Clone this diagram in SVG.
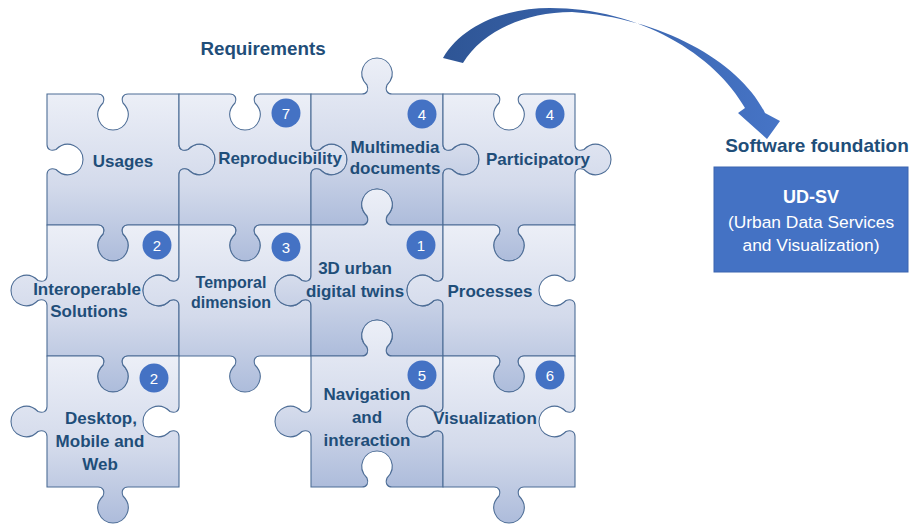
<svg xmlns="http://www.w3.org/2000/svg" width="913" height="527" viewBox="0 0 913 527">
<defs>
<linearGradient id="pg" x1="0" y1="0" x2="0" y2="1">
<stop offset="0" stop-color="#eceff7"/>
<stop offset="0.55" stop-color="#d3daeb"/>
<stop offset="1" stop-color="#adbcdb"/>
</linearGradient>
<linearGradient id="ag" x1="0" y1="0" x2="1" y2="0">
<stop offset="0" stop-color="#2e5595"/>
<stop offset="1" stop-color="#4674c6"/>
</linearGradient>
<style>
.pc{fill:url(#pg);stroke:#4d6d96;stroke-width:1.1}
.lb{font-family:"Liberation Sans",Arial,sans-serif;font-weight:bold;font-size:17px;fill:#1f4e79;text-anchor:middle}
.bd{fill:#4472c4}
.bn{font-family:"Liberation Sans",Arial,sans-serif;font-size:15px;fill:#ffffff;text-anchor:middle}
.ttl{font-family:"Liberation Sans",Arial,sans-serif;font-weight:bold;font-size:18.8px;fill:#1f4e79;text-anchor:middle}
.wt{font-family:"Liberation Sans",Arial,sans-serif;font-size:17.4px;fill:#ffffff;text-anchor:middle}
</style>
</defs>
<rect width="913" height="527" fill="#ffffff"/>
<text class="ttl" x="263" y="55">Requirements</text>

<g id="usages">
<path class="pc" d="M47,94 h51 c5,0 7,4 5,9 c-11,11 -3,27 10,27 c13,0 21,-16 10,-27 c-2,-5 0,-9 5,-9 h51 v50.5 c0,5 4,7 9,5 c11,-11 27,-3 27,10 c0,13 -16,21 -27,10 c-5,-2 -9,0 -9,5 v50.5 h-51 c-5,0 -7,4 -5,9 c11,11 3,27 -10,27 c-13,0 -21,-16 -10,-27 c2,-5 0,-9 -5,-9 h-51 v-50.5 c0,-5 4,-7 9,-5 c11,11 27,3 27,-10 c0,-13 -16,-21 -27,-10 c-5,2 -9,0 -9,-5 z"/>
<text class="lb" x="123" y="167">Usages</text>
</g>
<g id="reproducibility">
<path class="pc" d="M179,94 h51 c5,0 7,4 5,9 c-11,11 -3,27 10,27 c13,0 21,-16 10,-27 c-2,-5 0,-9 5,-9 h51 v50.5 c0,5 4,7 9,5 c11,-11 27,-3 27,10 c0,13 -16,21 -27,10 c-5,-2 -9,0 -9,5 v50.5 h-51 c-5,0 -7,4 -5,9 c11,11 3,27 -10,27 c-13,0 -21,-16 -10,-27 c2,-5 0,-9 -5,-9 h-51 v-50.5 c0,-5 4,-7 9,-5 c11,11 27,3 27,-10 c0,-13 -16,-21 -27,-10 c-5,2 -9,0 -9,-5 z"/>
<circle class="bd" cx="286" cy="113" r="14.5"/>
<text class="bn" x="286" y="118.5">7</text>
<text class="lb" x="280" y="164">Reproducibility</text>
</g>
<g id="multimedia">
<path class="pc" d="M311,94 h51 c5,0 7,-4 5,-9 c-11,-11 -3,-27 10,-27 c13,0 21,16 10,27 c-2,5 0,9 5,9 h51 v50.5 c0,5 4,7 9,5 c11,-11 27,-3 27,10 c0,13 -16,21 -27,10 c-5,-2 -9,0 -9,5 v50.5 h-51 c-5,0 -7,-4 -5,-9 c11,-11 3,-27 -10,-27 c-13,0 -21,16 -10,27 c2,5 0,9 -5,9 h-51 v-50.5 c0,-5 4,-7 9,-5 c11,11 27,3 27,-10 c0,-13 -16,-21 -27,-10 c-5,2 -9,0 -9,-5 z"/>
<circle class="bd" cx="422" cy="114" r="14.5"/>
<text class="bn" x="422" y="119.5">4</text>
<text class="lb" x="395" y="153">Multimedia</text>
<text class="lb" x="395" y="174">documents</text>
</g>
<g id="participatory">
<path class="pc" d="M443,94 h51 c5,0 7,4 5,9 c-11,11 -3,27 10,27 c13,0 21,-16 10,-27 c-2,-5 0,-9 5,-9 h51 v50.5 c0,5 4,7 9,5 c11,-11 27,-3 27,10 c0,13 -16,21 -27,10 c-5,-2 -9,0 -9,5 v50.5 h-51 c-5,0 -7,4 -5,9 c11,11 3,27 -10,27 c-13,0 -21,-16 -10,-27 c2,-5 0,-9 -5,-9 h-51 v-50.5 c0,-5 4,-7 9,-5 c11,11 27,3 27,-10 c0,-13 -16,-21 -27,-10 c-5,2 -9,0 -9,-5 z"/>
<circle class="bd" cx="550" cy="114" r="14.5"/>
<text class="bn" x="550" y="119.5">4</text>
<text class="lb" x="538" y="165">Participatory</text>
</g>

<g id="interoperable">
<path class="pc" d="M47,225 h51 c5,0 7,4 5,9 c-11,11 -3,27 10,27 c13,0 21,-16 10,-27 c-2,-5 0,-9 5,-9 h51 v50.5 c0,5 -4,7 -9,5 c-11,-11 -27,-3 -27,10 c0,13 16,21 27,10 c5,-2 9,0 9,5 v50.5 h-51 c-5,0 -7,4 -5,9 c11,11 3,27 -10,27 c-13,0 -21,-16 -10,-27 c2,-5 0,-9 -5,-9 h-51 v-50.5 c0,-5 -4,-7 -9,-5 c-11,11 -27,3 -27,-10 c0,-13 16,-21 27,-10 c5,2 9,0 9,-5 z"/>
<circle class="bd" cx="157" cy="245" r="14.5"/>
<text class="bn" x="157" y="250.5">2</text>
<text class="lb" x="87" y="295">Interoperable</text>
<text class="lb" x="89" y="317">Solutions</text>
</g>
<g id="temporal">
<path class="pc" d="M179,225 h51 c5,0 7,4 5,9 c-11,11 -3,27 10,27 c13,0 21,-16 10,-27 c-2,-5 0,-9 5,-9 h51 v50.5 c0,5 -4,7 -9,5 c-11,-11 -27,-3 -27,10 c0,13 16,21 27,10 c5,-2 9,0 9,5 v50.5 h-51 c-5,0 -7,4 -5,9 c11,11 3,27 -10,27 c-13,0 -21,-16 -10,-27 c2,-5 0,-9 -5,-9 h-51 v-50.5 c0,-5 -4,-7 -9,-5 c-11,11 -27,3 -27,-10 c0,-13 16,-21 27,-10 c5,2 9,0 9,-5 z"/>
<circle class="bd" cx="286" cy="247" r="14.5"/>
<text class="bn" x="286" y="252.5">3</text>
<text class="lb" x="231" y="288" style="font-size:16px">Temporal</text>
<text class="lb" x="231" y="308" style="font-size:16px">dimension</text>
</g>
<g id="digital-twins">
<path class="pc" d="M311,225 h51 c5,0 7,-4 5,-9 c-11,-11 -3,-27 10,-27 c13,0 21,16 10,27 c-2,5 0,9 5,9 h51 v50.5 c0,5 -4,7 -9,5 c-11,-11 -27,-3 -27,10 c0,13 16,21 27,10 c5,-2 9,0 9,5 v50.5 h-51 c-5,0 -7,-4 -5,-9 c11,-11 3,-27 -10,-27 c-13,0 -21,16 -10,27 c2,5 0,9 -5,9 h-51 v-50.5 c0,-5 -4,-7 -9,-5 c-11,11 -27,3 -27,-10 c0,-13 16,-21 27,-10 c5,2 9,0 9,-5 z"/>
<circle class="bd" cx="421" cy="245" r="14.5"/>
<text class="bn" x="421" y="250.5">1</text>
<text class="lb" x="355" y="274">3D urban</text>
<text class="lb" x="355" y="297">digital twins</text>
</g>
<g id="processes">
<path class="pc" d="M443,225 h51 c5,0 7,4 5,9 c-11,11 -3,27 10,27 c13,0 21,-16 10,-27 c-2,-5 0,-9 5,-9 h51 v50.5 c0,5 -4,7 -9,5 c-11,-11 -27,-3 -27,10 c0,13 16,21 27,10 c5,-2 9,0 9,5 v50.5 h-51 c-5,0 -7,4 -5,9 c11,11 3,27 -10,27 c-13,0 -21,-16 -10,-27 c2,-5 0,-9 -5,-9 h-51 v-50.5 c0,-5 -4,-7 -9,-5 c-11,11 -27,3 -27,-10 c0,-13 16,-21 27,-10 c5,2 9,0 9,-5 z"/>
<text class="lb" x="490" y="297">Processes</text>
</g>

<g id="desktop">
<path class="pc" d="M47,356 h51 c5,0 7,4 5,9 c-11,11 -3,27 10,27 c13,0 21,-16 10,-27 c-2,-5 0,-9 5,-9 h51 v50.5 c0,5 -4,7 -9,5 c-11,-11 -27,-3 -27,10 c0,13 16,21 27,10 c5,-2 9,0 9,5 v50.5 h-51 c-5,0 -7,4 -5,9 c11,11 3,27 -10,27 c-13,0 -21,-16 -10,-27 c2,-5 0,-9 -5,-9 h-51 v-50.5 c0,-5 -4,-7 -9,-5 c-11,11 -27,3 -27,-10 c0,-13 16,-21 27,-10 c5,2 9,0 9,-5 z"/>
<circle class="bd" cx="154" cy="378" r="14.5"/>
<text class="bn" x="154" y="383.5">2</text>
<text class="lb" x="101" y="424">Desktop,</text>
<text class="lb" x="100" y="447">Mobile and</text>
<text class="lb" x="100" y="470">Web</text>
</g>
<g id="navigation">
<path class="pc" d="M311,356 h51 c5,0 7,-4 5,-9 c-11,-11 -3,-27 10,-27 c13,0 21,16 10,27 c-2,5 0,9 5,9 h51 v50.5 c0,5 -4,7 -9,5 c-11,-11 -27,-3 -27,10 c0,13 16,21 27,10 c5,-2 9,0 9,5 v50.5 h-51 c-5,0 -7,-4 -5,-9 c11,-11 3,-27 -10,-27 c-13,0 -21,16 -10,27 c2,5 0,9 -5,9 h-51 v-50.5 c0,-5 -4,-7 -9,-5 c-11,11 -27,3 -27,-10 c0,-13 16,-21 27,-10 c5,2 9,0 9,-5 z"/>
<circle class="bd" cx="422" cy="375" r="14.5"/>
<text class="bn" x="422" y="380.5">5</text>
<text class="lb" x="367" y="400">Navigation</text>
<text class="lb" x="367" y="423">and</text>
<text class="lb" x="367" y="446">interaction</text>
</g>
<g id="visualization">
<path class="pc" d="M443,356 h51 c5,0 7,4 5,9 c-11,11 -3,27 10,27 c13,0 21,-16 10,-27 c-2,-5 0,-9 5,-9 h51 v50.5 c0,5 -4,7 -9,5 c-11,-11 -27,-3 -27,10 c0,13 16,21 27,10 c5,-2 9,0 9,5 v50.5 h-51 c-5,0 -7,4 -5,9 c11,11 3,27 -10,27 c-13,0 -21,-16 -10,-27 c2,-5 0,-9 -5,-9 h-51 v-50.5 c0,-5 -4,-7 -9,-5 c-11,11 -27,3 -27,-10 c0,-13 16,-21 27,-10 c5,2 9,0 9,-5 z"/>
<circle class="bd" cx="550" cy="375" r="14.5"/>
<text class="bn" x="550" y="380.5">6</text>
<text class="lb" x="485" y="424">Visualization</text>
</g>

<g id="connectors">
<path fill="url(#ag)" d="M443,58 C462,25 505,8 550,8 C640,8 715,55 745,108 L738,113 L767,139 L780,121 L765,113 C740,62 662,18 572,12 C520,12 480,35 463,63 Z"/>
</g>

<g id="software-foundation">
<text class="ttl" x="817" y="152" style="font-size:19px">Software foundation</text>
<rect x="714" y="167" width="194" height="105" fill="#4472c4" stroke="#3b65b0" stroke-width="1"/>
<text class="wt" x="811" y="203" style="font-weight:bold;font-size:18px">UD-SV</text>
<text class="wt" x="811" y="228">(Urban Data Services</text>
<text class="wt" x="811" y="251">and Visualization)</text>
</g>
</svg>
